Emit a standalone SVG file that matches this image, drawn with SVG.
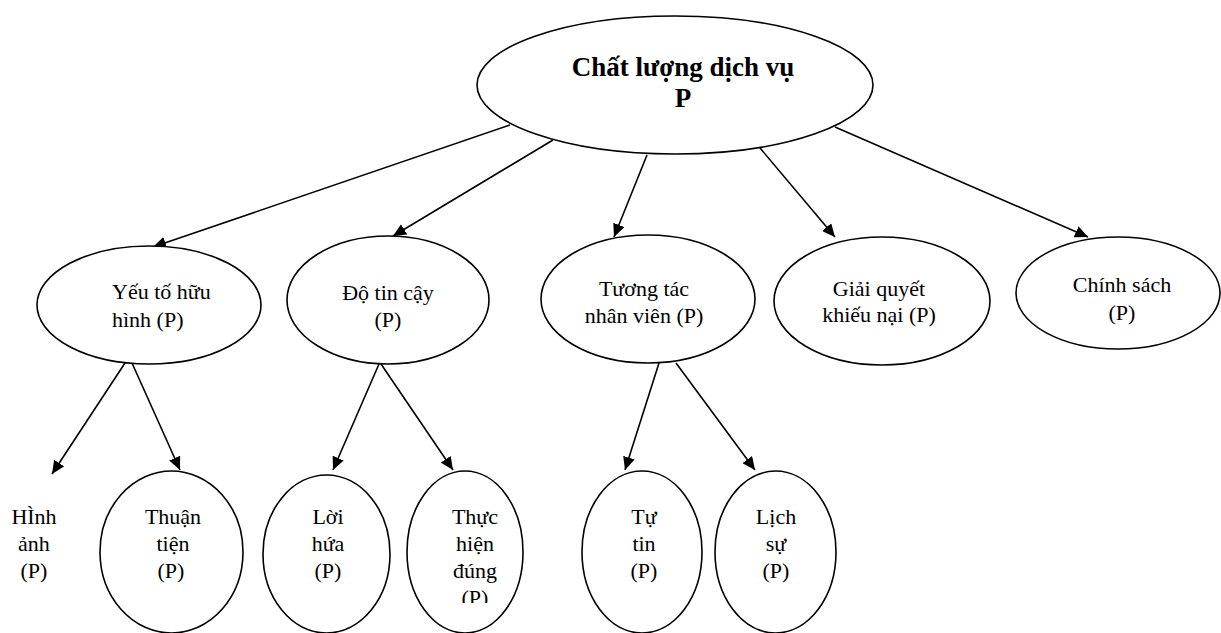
<svg xmlns="http://www.w3.org/2000/svg" width="1221" height="633" viewBox="0 0 1221 633">
<style>
.n{fill:#fff;stroke:#000;stroke-width:1.6}
.t{font-family:"Liberation Serif","Times New Roman",serif;font-size:22px;fill:#000;text-anchor:middle}
.b{font-weight:bold;font-size:27px}
.c{stroke:#000;stroke-width:1.6;fill:none;marker-end:url(#ah)}
</style>
<defs>
<marker id="ah" markerUnits="userSpaceOnUse" markerWidth="14" markerHeight="12" refX="13" refY="6" orient="auto">
<path d="M0,0 L13,6 L0,12 Z" fill="#000"/>
</marker>
<clipPath id="clipBottom"><rect x="0" y="0" width="1221" height="603"/></clipPath>
</defs>
<rect width="1221" height="633" fill="#fff"/>
<g id="connectors">
<line class="c" x1="510" y1="125" x2="153" y2="247"/>
<line class="c" x1="553" y1="140" x2="393" y2="236"/>
<line class="c" x1="647" y1="155" x2="614" y2="237"/>
<line class="c" x1="760" y1="148" x2="835" y2="237"/>
<line class="c" x1="835" y1="127" x2="1088" y2="237"/>
<line class="c" x1="125" y1="363" x2="52" y2="474"/>
<line class="c" x1="132" y1="363" x2="180" y2="470"/>
<line class="c" x1="379" y1="364" x2="333" y2="470"/>
<line class="c" x1="381" y1="364" x2="453" y2="470"/>
<line class="c" x1="659" y1="363" x2="625" y2="470"/>
<line class="c" x1="676" y1="363" x2="755" y2="470"/>
</g>
<g id="root">
<ellipse class="n" cx="675" cy="85" rx="198" ry="69"/>
<text class="t b" x="683" y="76">Chất lượng dịch vụ</text>
<text class="t b" x="683" y="107">P</text>
</g>
<g id="yeu-to-huu-hinh">
<ellipse class="n" cx="149" cy="305" rx="112" ry="59"/>
<text class="t" x="112" y="299" style="text-anchor:start">Yếu tố hữu</text>
<text class="t" x="112" y="327" style="text-anchor:start">hình (P)</text>
</g>
<g id="do-tin-cay">
<ellipse class="n" cx="388" cy="300" rx="101" ry="64"/>
<text class="t" x="388" y="300">Độ tin cậy</text>
<text class="t" x="388" y="327">(P)</text>
</g>
<g id="tuong-tac">
<ellipse class="n" cx="648" cy="299" rx="107" ry="64"/>
<text class="t" x="644" y="296">Tương tác</text>
<text class="t" x="644" y="323">nhân viên (P)</text>
</g>
<g id="giai-quyet">
<ellipse class="n" cx="882" cy="301" rx="108" ry="64"/>
<text class="t" x="879" y="296">Giải quyết</text>
<text class="t" x="879" y="322">khiếu nại (P)</text>
</g>
<g id="chinh-sach">
<ellipse class="n" cx="1118" cy="293" rx="102" ry="56"/>
<text class="t" x="1122" y="292">Chính sách</text>
<text class="t" x="1122" y="320">(P)</text>
</g>
<g id="hinh-anh">
<text class="t" x="34" y="524">HÌnh</text>
<text class="t" x="34" y="551">ảnh</text>
<text class="t" x="34" y="578">(P)</text>
</g>
<g id="thuan-tien">
<ellipse class="n" cx="171.5" cy="552" rx="71.5" ry="81"/>
<text class="t" x="173" y="524">Thuận</text>
<text class="t" x="173" y="551">tiện</text>
<text class="t" x="171" y="578">(P)</text>
</g>
<g id="loi-hua">
<ellipse class="n" cx="326.5" cy="554" rx="63.5" ry="79"/>
<text class="t" x="328" y="524">Lời</text>
<text class="t" x="328" y="551">hứa</text>
<text class="t" x="328" y="578">(P)</text>
</g>
<g id="thuc-hien-dung">
<ellipse class="n" cx="465" cy="552" rx="58" ry="81"/>
<text class="t" x="475" y="524">Thực</text>
<text class="t" x="475" y="551">hiện</text>
<text class="t" x="475" y="578">đúng</text>
<text class="t" x="475" y="605" clip-path="url(#clipBottom)">(P)</text>
</g>
<g id="tu-tin">
<ellipse class="n" cx="642" cy="552" rx="60" ry="81"/>
<text class="t" x="644" y="524">Tự</text>
<text class="t" x="644" y="551">tin</text>
<text class="t" x="644" y="578">(P)</text>
</g>
<g id="lich-su">
<ellipse class="n" cx="775.5" cy="552" rx="60.5" ry="81"/>
<text class="t" x="776" y="524">Lịch</text>
<text class="t" x="776" y="551">sự</text>
<text class="t" x="776" y="578">(P)</text>
</g>
</svg>
